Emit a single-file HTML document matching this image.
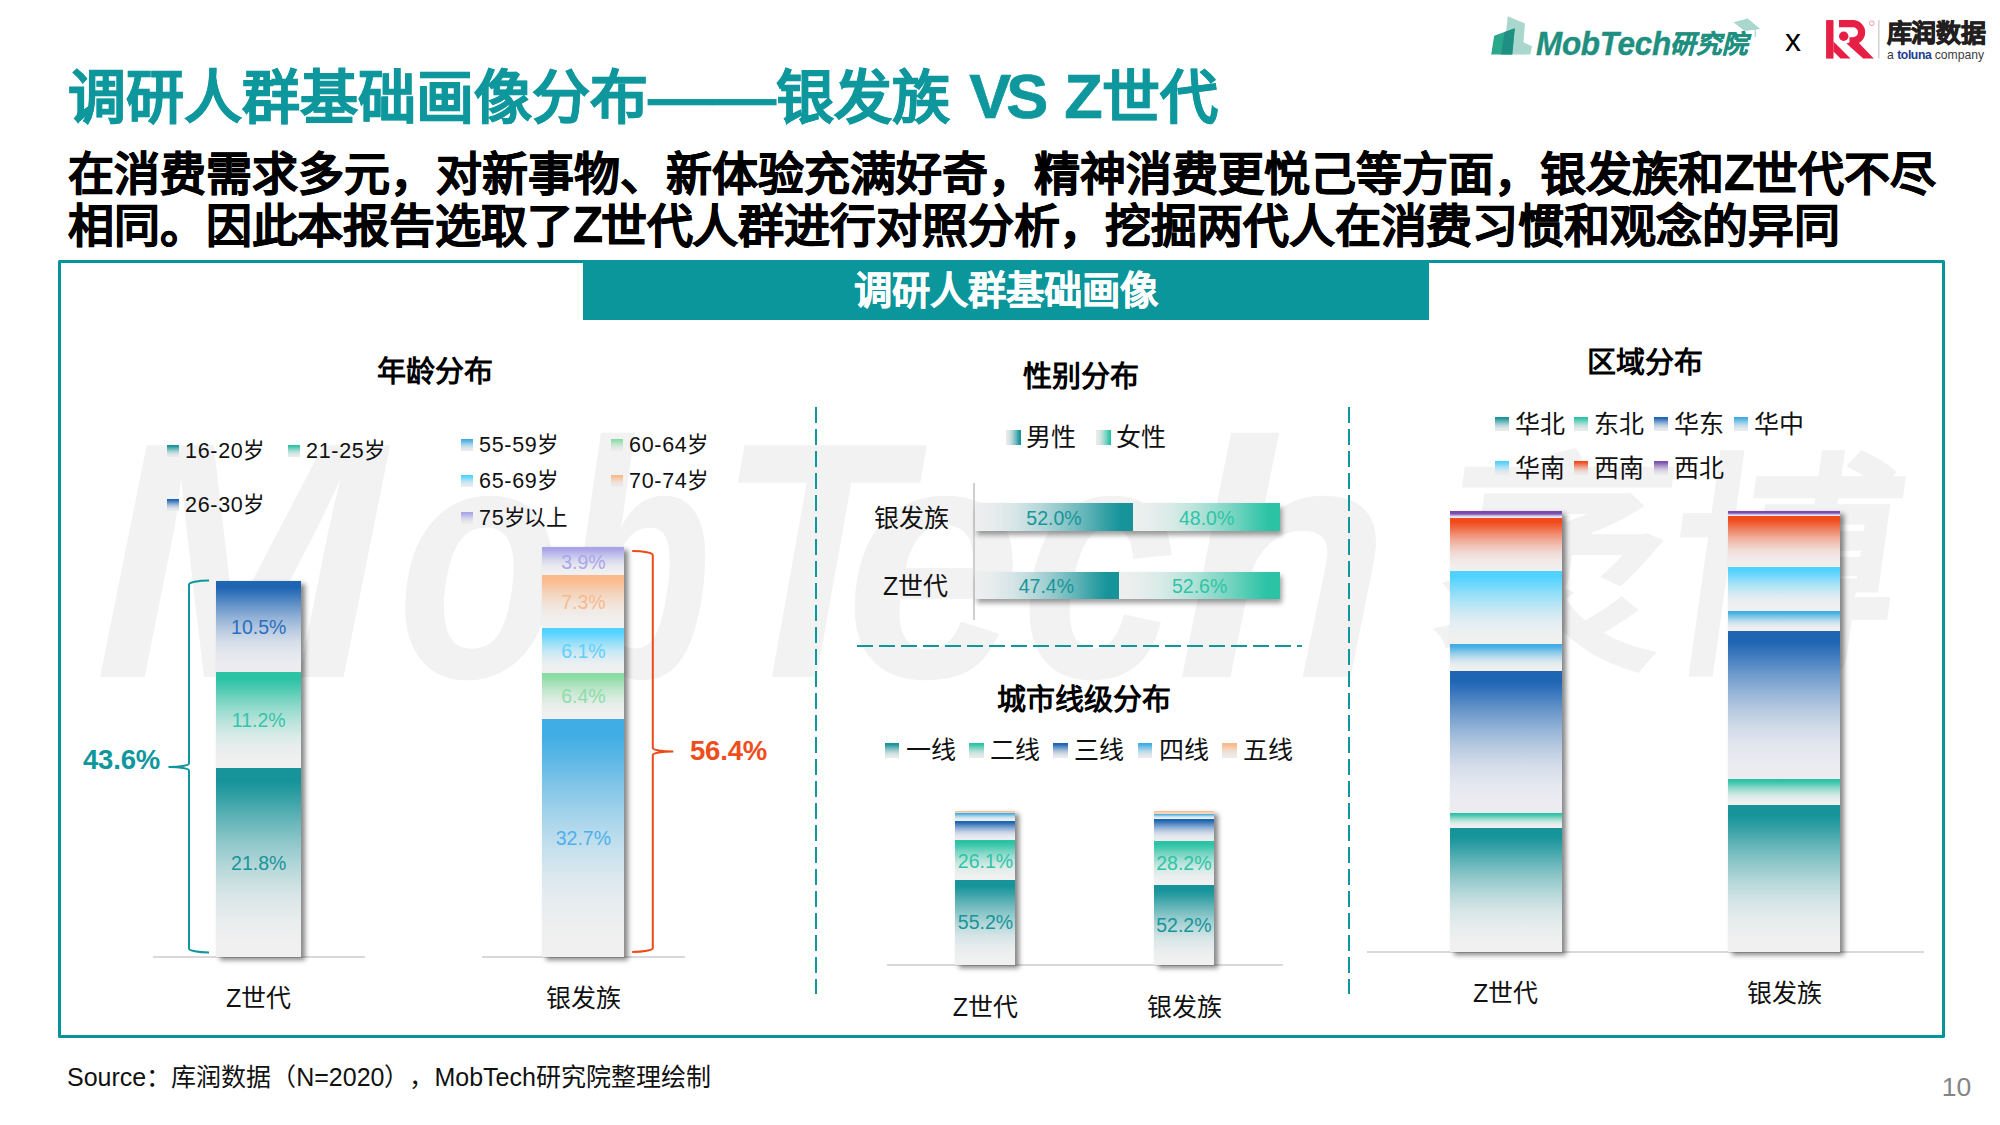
<!DOCTYPE html>
<html lang="zh-CN">
<head>
<meta charset="utf-8">
<title>调研人群基础画像分布——银发族 VS Z世代</title>
<style>
html,body{margin:0;padding:0;background:#fff;}
body{width:2000px;height:1125px;overflow:hidden;font-family:"Liberation Sans",sans-serif;color:#000;}
#slide{position:relative;width:2000px;height:1125px;background:#fff;overflow:hidden;}
.abs{position:absolute;}
.t{position:absolute;white-space:nowrap;line-height:1;}
.c{transform:translate(-50%,-50%);}
.cy{transform:translateY(-50%);}
.b{font-weight:bold;}
/* title */
#title{left:68px;top:62.5px;font-size:58px;line-height:70px;font-weight:bold;color:#0e979c;-webkit-text-stroke:.7px #0e979c;}
#sub{left:68px;top:148px;font-size:46px;line-height:52px;font-weight:bold;color:#000;white-space:nowrap;-webkit-text-stroke:.6px #000;}
#box{left:58px;top:260px;width:1881px;height:772px;border:3px solid #05949a;border-radius:1.5px;}
#banner{left:583px;top:260px;width:846px;height:60px;background:#0a969b;color:#fff;font-weight:bold;font-size:38.3px;line-height:62px;text-align:center;-webkit-text-stroke:.4px #fff;}
.z{font-size:50px;line-height:1px;letter-spacing:-2.6px;}
.wm{color:#f2f2f2;font-weight:bold;font-style:italic;}
.wl{top:391.7px;font-size:337px;line-height:337px;transform-origin:0 0;}
.ct{font-size:29px;font-weight:bold;color:#000;}
.lg{font-size:21.5px;color:#111;letter-spacing:.7px;}
.lg25{font-size:25px;color:#111;}
.cat{font-size:25px;color:#111;}
.dl{font-size:19.5px;}
.big{font-size:27.5px;letter-spacing:-.2px;}
.mk{position:absolute;width:12px;height:12px;}
.lg,.lg25{margin-left:-1px;}
.seg{position:absolute;left:0;width:100%;}
.bar{position:absolute;box-shadow:4px 3px 5px rgba(0,0,0,.48);}
.hbar{position:absolute;box-shadow:2px 4px 5px rgba(0,0,0,.38);}
.axis{position:absolute;background:#d9d9d9;}
.vd{position:absolute;width:2px;background:repeating-linear-gradient(to bottom,#0e979c 0,#0e979c 16px,transparent 16px,transparent 22px);}
.hd{position:absolute;height:2px;background:repeating-linear-gradient(to right,#0e979c 0,#0e979c 16px,transparent 16px,transparent 22px);}
</style>
</head>
<body>
<div id="slide">

<!-- LOGOS -->
<svg class="abs" style="left:1485px;top:10px;" width="60" height="50" viewBox="1485 10 60 50">
<polygon points="1507.7,16.2 1525,23.4 1522.4,54.5 1504,54.5" fill="#a9d6cd"/>
<polygon points="1522.4,41.7 1532,46.2 1530.2,54.5 1521,54.5" fill="#a9d6cd"/>
<polygon points="1494.2,35.7 1514.8,28.2 1512.2,54.5 1491.2,54.5" fill="#2aa88b"/>
<polygon points="1504.7,32 1514.8,28.2 1512.2,54.5 1501,54.5" fill="#1f8f84"/>
</svg>
<div class="t" style="left:1536px;top:25.7px;font-size:32.5px;line-height:36px;font-weight:bold;font-style:italic;color:#1f8f80;transform-origin:0 0;transform:scaleX(.968);letter-spacing:-.3px;-webkit-text-stroke:.4px #1f8f80;">MobTech</div>
<div class="t" style="left:1670px;top:26px;font-size:25.5px;line-height:36px;font-weight:bold;font-style:italic;color:#1f8f80;-webkit-text-stroke:.5px #1f8f80;">研究院</div>
<svg class="abs" style="left:1728px;top:14px;" width="40" height="28" viewBox="1728 14 40 28">
<polygon points="1733.5,22.2 1747.7,18.5 1760.2,29 1744.5,31" fill="#a9d6cd"/>
<rect x="1754.6" y="29" width="1.2" height="8" fill="#a9d6cd"/>
</svg>
<div class="t c" style="left:1793px;top:40px;font-size:32px;color:#000;">x</div>
<svg class="abs" style="left:1820px;top:14px;" width="64" height="50" viewBox="1820 14 64 50">
<rect x="1826.1" y="20.1" width="7.4" height="38.5" fill="#e71f45"/>
<polygon points="1833.5,41.5 1850.5,58.6 1840.5,58.6 1833.5,51.6" fill="#e71f45"/>
<path d="M1839 23.7 L1853 23.7 A8.6 8.6 0 0 1 1853 40.9 L1849.5 40.9" fill="none" stroke="#e71f45" stroke-width="7.2"/>
<polygon points="1846.5,43.5 1856,40 1873.8,58.6 1863.2,58.6" fill="#e71f45"/>
<circle cx="1843.7" cy="36.2" r="4.7" fill="#e71f45"/>
<circle cx="1871.8" cy="23.3" r="2.3" fill="none" stroke="#ee7f8f" stroke-width=".8"/>
<rect x="1878" y="20" width="1.5" height="38.6" fill="#d2d2d2"/>
</svg>
<div class="t" style="left:1886.5px;top:15px;font-size:25px;line-height:36px;font-weight:900;color:#231f20;letter-spacing:-.2px;-webkit-text-stroke:.8px #231f20;">库润数据</div>
<div class="t" style="left:1887px;top:48px;font-size:12.2px;line-height:14px;color:#3c3c3c;">a <span style="color:#1b3e8f;font-weight:bold;letter-spacing:-.4px;">toluna</span> company</div>

<!-- WATERMARK -->
<div id="wm1">
<div class="t wm wl" style="left:93.9px;transform:scaleX(1.033);">M</div>
<div class="t wm wl" style="left:396.7px;transform:scaleX(0.796);">o</div>
<div class="t wm wl" style="left:560.8px;transform:scaleX(0.735);">b</div>
<div class="t wm wl" style="left:716.1px;transform:scaleX(0.919);">T</div>
<div class="t wm wl" style="left:845.2px;transform:scaleX(0.942);">e</div>
<div class="t wm wl" style="left:1021.4px;transform:scaleX(0.825);">c</div>
<div class="t wm wl" style="left:1176.0px;transform:scaleX(1.043);">h</div>
</div>
<div id="wm2" class="t" style="left:1421px;top:432px;font-size:238px;line-height:280px;font-weight:900;color:#f2f2f2;transform-origin:0 100%;transform:skewX(-8deg) scaleX(.962);">袤博</div>

<!-- TITLE -->
<div id="title" class="t">调研人群基础画像分布<span style="display:inline-block;transform:scaleX(1.105);transform-origin:0 50%;margin-right:12px;">——</span>银发族 <span style="font-size:63px;line-height:1px;letter-spacing:-5px;margin-left:3px;">VS</span> <span style="font-size:63px;line-height:1px;margin-left:5px;letter-spacing:-1px;">Z</span>世代</div>
<div id="sub" class="abs">在消费需求多元，对新事物、新体验充满好奇，精神消费更悦己等方面，银发族和<span class="z">Z</span>世代不尽<br><span style="letter-spacing:-.12px;">相同。因此本报告选取了<span class="z">Z</span>世代人群进行对照分析，挖掘两代人在消费习惯和观念的异同</span></div>

<!-- BOX -->
<div id="box" class="abs"></div>
<div id="banner" class="abs">调研人群基础画像</div>

<!-- CHARTS-BEGIN -->
<!-- SECTION TITLES -->
<div class="t c ct" style="left:435px;top:372px;">年龄分布</div>
<div class="t c ct" style="left:1081px;top:377px;">性别分布</div>
<div class="t c ct" style="left:1084px;top:700px;">城市线级分布</div>
<div class="t c ct" style="left:1645px;top:363px;">区域分布</div>
<!-- DIVIDERS -->
<div class="vd" style="left:815px;top:407px;height:587px;"></div>
<div class="vd" style="left:1348px;top:407px;height:587px;"></div>
<div class="hd" style="left:857px;top:645px;width:445px;"></div>
<!-- AGE CHART -->
<div class="mk" style="left:167px;top:444.5px;width:12px;height:12px;background:linear-gradient(to bottom,#16949a 8%,#329fa5 16%,#61b3b7 30%,#8ec5c8 44%,#b4d5d7 58%,#d2e1e2 73%,#e3e8e9 87%,#ececec 101%);"></div><div class="t cy lg" style="left:186px;top:452.0px;">16-20岁</div>
<div class="mk" style="left:288px;top:444.5px;width:12px;height:12px;background:linear-gradient(to bottom,#2cc3a5 8%,#45c8ae 16%,#6fd1be 30%,#98dacd 44%,#bae1da 58%,#d5e7e3 73%,#e4eae9 87%,#ececec 101%);"></div><div class="t cy lg" style="left:307px;top:452.0px;">21-25岁</div>
<div class="mk" style="left:167px;top:499.0px;width:12px;height:12px;background:linear-gradient(to bottom,#1e65b4 8%,#3977bb 16%,#6694c8 30%,#91b1d3 44%,#b6c9dd 58%,#d3dce5 73%,#e4e7ea 87%,#ececec 101%);"></div><div class="t cy lg" style="left:186px;top:506px;">26-30岁</div>
<div class="mk" style="left:461px;top:438.5px;width:12px;height:12px;background:linear-gradient(to bottom,#40ade4 8%,#56b5e5 16%,#7cc3e7 30%,#a0d0e8 44%,#bfdcea 58%,#d7e4eb 73%,#e5e9ec 87%,#ececec 101%);"></div><div class="t cy lg" style="left:480px;top:446.0px;">55-59岁</div>
<div class="mk" style="left:611px;top:438.5px;width:12px;height:12px;background:linear-gradient(to bottom,#8bdba6 8%,#98ddaf 16%,#ade1be 30%,#c1e5cd 44%,#d3e8da 58%,#e0eae4 73%,#e8ebe9 87%,#ececec 101%);"></div><div class="t cy lg" style="left:630px;top:446.0px;">60-64岁</div>
<div class="mk" style="left:461px;top:475.0px;width:12px;height:12px;background:linear-gradient(to bottom,#4fd2ff 8%,#63d5fd 16%,#86dbf8 30%,#a7e1f4 44%,#c3e5f1 58%,#d9e9ee 73%,#e6ebed 87%,#ececec 101%);"></div><div class="t cy lg" style="left:480px;top:481.5px;">65-69岁</div>
<div class="mk" style="left:611px;top:475.0px;width:12px;height:12px;background:linear-gradient(to bottom,#f9b98a 8%,#f7c097 16%,#f4cbac 30%,#f2d6c1 44%,#efdfd3 58%,#eee6e0 73%,#edeae8 87%,#ececec 101%);"></div><div class="t cy lg" style="left:630px;top:481.5px;">70-74岁</div>
<div class="mk" style="left:461px;top:512.0px;width:12px;height:12px;background:linear-gradient(to bottom,#a8a4e8 8%,#b1ade9 16%,#c0bde9 30%,#ceccea 44%,#dad9eb 58%,#e4e3ec 73%,#e9e9ec 87%,#ececec 101%);"></div><div class="t cy lg" style="left:480px;top:519px;">75岁<span style="margin-left:-3px;letter-spacing:-.5px;">以上</span></div>
<div class="axis" style="left:153px;top:956px;width:212px;height:2px;"></div>
<div class="axis" style="left:482px;top:956px;width:203px;height:2px;"></div>
<div class="bar" style="left:216px;top:580.5px;width:85px;height:376.5px;">
<div class="seg" style="top:0.00px;height:91.10px;background:linear-gradient(to bottom,#1e65b4 7%,#3977bc 15%,#6694c9 27%,#91b1d6 40%,#b6c9e0 53%,#d3dce9 66%,#e4e7ee 79%,#ececf0 92%);"></div>
<div class="seg" style="top:91.10px;height:96.70px;background:linear-gradient(to bottom,#2cc3a5 7%,#45c9af 15%,#71d3bf 27%,#9adccf 40%,#bde4dc 53%,#d8ebe7 66%,#e8eeed 79%,#f0f0f0 92%);"></div>
<div class="seg" style="top:187.80px;height:188.70px;background:linear-gradient(to bottom,#16949a 7%,#32a0a5 15%,#62b4b8 27%,#90c8ca 40%,#b7d8da 53%,#d6e5e6 66%,#e7eced 79%,#f0f0f0 92%);"></div>
</div>
<div class="bar" style="left:542.3px;top:546.6px;width:82.0px;height:410.4px;">
<div class="seg" style="top:0.00px;height:28.40px;background:linear-gradient(to bottom,#a8a4e8 7%,#b1aee9 15%,#c1bfeb 27%,#d0cfec 40%,#dddcee 53%,#e7e7ef 66%,#ededf0 79%,#f0f0f0 92%);"></div>
<div class="seg" style="top:28.40px;height:53.00px;background:linear-gradient(to bottom,#f9b98a 7%,#f8c097 15%,#f6ccae 27%,#f4d8c3 40%,#f2e2d5 53%,#f1e9e4 66%,#f0eeec 79%,#f0f0f0 92%);"></div>
<div class="seg" style="top:81.40px;height:44.70px;background:linear-gradient(to bottom,#4fd2ff 7%,#64d6fd 15%,#87dcfa 27%,#a9e3f7 40%,#c6e8f4 53%,#ddecf2 66%,#eaeff1 79%,#f0f0f0 92%);"></div>
<div class="seg" style="top:126.10px;height:46.70px;background:linear-gradient(to bottom,#8bdba6 7%,#98deb0 15%,#aee2c0 27%,#c4e7cf 40%,#d6ebdd 53%,#e4ede7 66%,#ecefed 79%,#f0f0f0 92%);"></div>
<div class="seg" style="top:172.80px;height:237.60px;background:linear-gradient(to bottom,#40ade4 7%,#57b6e6 15%,#7ec4e8 27%,#a3d3eb 40%,#c2dfed 53%,#dbe8ef 66%,#e9edf0 79%,#f0f0f0 92%);"></div>
</div>
<div class="t c dl" style="left:258.7px;top:627.5px;color:#2a6fc0;">10.5%</div>
<div class="t c dl" style="left:258.7px;top:721px;color:#35c5a9;">11.2%</div>
<div class="t c dl" style="left:258.7px;top:863.5px;color:#17959a;">21.8%</div>
<div class="t c dl" style="left:583.4px;top:563px;color:#a9a6ea;">3.9%</div>
<div class="t c dl" style="left:583.4px;top:603px;color:#f7ba8f;">7.3%</div>
<div class="t c dl" style="left:583.4px;top:652px;color:#5fd0fb;">6.1%</div>
<div class="t c dl" style="left:583.4px;top:696.6px;color:#8fdcaa;">6.4%</div>
<div class="t c dl" style="left:583.4px;top:839px;color:#4fb0ea;">32.7%</div>
<div class="t c cat" style="left:258.7px;top:998px;">Z世代</div>
<div class="t c cat" style="left:583.4px;top:998px;">银发族</div>
<div class="t cy b big" style="left:83px;top:760px;color:#0e979c;">43.6%</div>
<div class="t cy b big" style="left:690px;top:751px;color:#ef4e1c;">56.4%</div>
<svg class="abs" style="left:160px;top:570px;" width="60" height="395" viewBox="160 570 60 395" fill="none">
<path d="M209 580.5 A20 4 0 0 0 189 584.5 L189 763.5 A20 3.5 0 0 1 168.5 767 A20 3.5 0 0 1 189 770.5 L189 948.5 A20 4 0 0 0 209 952.5" stroke="#0e979c" stroke-width="2"/></svg>
<svg class="abs" style="left:625px;top:540px;" width="60" height="425" viewBox="625 540 60 425" fill="none">
<path d="M632.2 551 A20.5 4 0 0 1 652.8 555 L652.8 748 A20.5 3.5 0 0 0 673.3 751.5 A20.5 3.5 0 0 0 652.8 755 L652.8 948 A20.5 4 0 0 1 632.2 952" stroke="#ee4a18" stroke-width="2"/></svg>
<!-- GENDER CHART -->
<div class="mk" style="left:1005.5px;top:430.0px;width:15px;height:15px;background:linear-gradient(to left,#16949a 8%,#329fa5 17%,#61b3b7 30%,#8ec5c8 45%,#b4d5d7 59%,#d2e1e2 74%,#e3e8e9 88%,#ececec 103%);"></div><div class="t cy lg25" style="left:1027.0px;top:436.5px;">男性</div>
<div class="mk" style="left:1095.6px;top:430.0px;width:15px;height:15px;background:linear-gradient(to left,#2cc3a5 8%,#45c8ae 17%,#6fd1be 30%,#98dacd 45%,#bae1da 59%,#d5e7e3 74%,#e4eae9 88%,#ececec 103%);"></div><div class="t cy lg25" style="left:1117.1px;top:436.5px;">女性</div>
<div class="axis" style="left:973px;top:483px;width:2px;height:137px;background:#cfcfcf;"></div>
<div class="hbar" style="left:975px;top:503px;width:305px;height:28px;"><div class="abs" style="left:0;top:0;height:100%;width:158px;background:linear-gradient(to left,#16949a 8%,#32a0a5 17%,#62b4b8 30%,#90c8ca 45%,#b7d8da 59%,#d6e5e6 74%,#e7eced 88%,#f0f0f0 103%);"></div><div class="abs" style="left:158px;top:0;height:100%;width:147px;background:linear-gradient(to left,#2cc3a5 8%,#45c9af 17%,#71d3bf 30%,#9adccf 45%,#bde4dc 59%,#d8ebe7 74%,#e8eeed 88%,#f0f0f0 103%);"></div></div>
<div class="hbar" style="left:975px;top:572px;width:305px;height:27px;"><div class="abs" style="left:0;top:0;height:100%;width:144px;background:linear-gradient(to left,#16949a 8%,#32a0a5 17%,#62b4b8 30%,#90c8ca 45%,#b7d8da 59%,#d6e5e6 74%,#e7eced 88%,#f0f0f0 103%);"></div><div class="abs" style="left:144px;top:0;height:100%;width:161px;background:linear-gradient(to left,#2cc3a5 8%,#45c9af 17%,#71d3bf 30%,#9adccf 45%,#bde4dc 59%,#d8ebe7 74%,#e8eeed 88%,#f0f0f0 103%);"></div></div>
<div class="t c dl" style="left:1054px;top:519px;color:#17959a;">52.0%</div>
<div class="t c dl" style="left:1206.6px;top:519px;color:#2ec4a6;">48.0%</div>
<div class="t c dl" style="left:1046.4px;top:587px;color:#17959a;">47.4%</div>
<div class="t c dl" style="left:1199.6px;top:587px;color:#2ec4a6;">52.6%</div>
<div class="t cy cat" style="left:874px;top:517.5px;">银发族</div>
<div class="t cy cat" style="left:883px;top:586px;">Z世代</div>
<!-- CITY TIER CHART -->
<div class="mk" style="left:884.6px;top:743.2px;width:14.5px;height:14.5px;background:linear-gradient(to bottom,#16949a 8%,#329fa5 16%,#61b3b7 30%,#8ec5c8 44%,#b4d5d7 58%,#d2e1e2 73%,#e3e8e9 87%,#ececec 101%);"></div><div class="t cy lg25" style="left:906.6px;top:749.8px;">一线</div>
<div class="mk" style="left:969.0px;top:743.2px;width:14.5px;height:14.5px;background:linear-gradient(to bottom,#2cc3a5 8%,#45c8ae 16%,#6fd1be 30%,#98dacd 44%,#bae1da 58%,#d5e7e3 73%,#e4eae9 87%,#ececec 101%);"></div><div class="t cy lg25" style="left:991.0px;top:749.8px;">二线</div>
<div class="mk" style="left:1053.4px;top:743.2px;width:14.5px;height:14.5px;background:linear-gradient(to bottom,#1e65b4 8%,#3977bb 16%,#6694c8 30%,#91b1d3 44%,#b6c9dd 58%,#d3dce5 73%,#e4e7ea 87%,#ececec 101%);"></div><div class="t cy lg25" style="left:1075.4px;top:749.8px;">三线</div>
<div class="mk" style="left:1137.8px;top:743.2px;width:14.5px;height:14.5px;background:linear-gradient(to bottom,#40ade4 8%,#56b5e5 16%,#7cc3e7 30%,#a0d0e8 44%,#bfdcea 58%,#d7e4eb 73%,#e5e9ec 87%,#ececec 101%);"></div><div class="t cy lg25" style="left:1159.8px;top:749.8px;">四线</div>
<div class="mk" style="left:1222.2px;top:743.2px;width:14.5px;height:14.5px;background:linear-gradient(to bottom,#f9b98a 8%,#f7c097 16%,#f4cbac 30%,#f2d6c1 44%,#efdfd3 58%,#eee6e0 73%,#edeae8 87%,#ececec 101%);"></div><div class="t cy lg25" style="left:1244.2px;top:749.8px;">五线</div>
<div class="axis" style="left:887px;top:964px;width:396px;height:2px;"></div>
<div class="bar" style="left:955.3px;top:810.8px;width:60.200000000000045px;height:154.20000000000005px;">
<div class="seg" style="top:0.00px;height:1.80px;background:linear-gradient(to bottom,#f9b98a 7%,#f9bc90 15%,#fac299 27%,#fac8a3 40%,#faccab 53%,#fbd0b1 66%,#fbd2b4 79%,#fbd3b6 92%);"></div>
<div class="seg" style="top:1.80px;height:8.10px;background:linear-gradient(to bottom,#40ade4 7%,#57b6e6 15%,#7ec4e8 27%,#a3d3eb 40%,#c2dfed 53%,#dbe8ef 66%,#e9edf0 79%,#f0f0f0 92%);"></div>
<div class="seg" style="top:9.90px;height:19.30px;background:linear-gradient(to bottom,#1e65b4 7%,#3977bc 15%,#6694c9 27%,#91b1d6 40%,#b6c9e0 53%,#d3dce9 66%,#e4e7ee 79%,#ececf0 92%);"></div>
<div class="seg" style="top:29.20px;height:40.00px;background:linear-gradient(to bottom,#2cc3a5 7%,#45c9af 15%,#71d3bf 27%,#9adccf 40%,#bde4dc 53%,#d8ebe7 66%,#e8eeed 79%,#f0f0f0 92%);"></div>
<div class="seg" style="top:69.20px;height:85.00px;background:linear-gradient(to bottom,#16949a 7%,#32a0a5 15%,#62b4b8 27%,#90c8ca 40%,#b7d8da 53%,#d6e5e6 66%,#e7eced 79%,#f0f0f0 92%);"></div>
</div>
<div class="bar" style="left:1153.7px;top:810.8px;width:60.299999999999955px;height:154.20000000000005px;">
<div class="seg" style="top:0.00px;height:3.00px;background:linear-gradient(to bottom,#f9b98a 7%,#f9bd92 15%,#f8c49e 27%,#f7cbaa 40%,#f7d1b5 53%,#f6d5bd 66%,#f6d8c2 79%,#f6d9c4 92%);"></div>
<div class="seg" style="top:3.00px;height:5.10px;background:linear-gradient(to bottom,#40ade4 7%,#57b6e6 15%,#7ec4e8 27%,#a3d3eb 40%,#c2dfed 53%,#dbe8ef 66%,#e9edf0 79%,#f0f0f0 92%);"></div>
<div class="seg" style="top:8.10px;height:22.30px;background:linear-gradient(to bottom,#1e65b4 7%,#3977bc 15%,#6694c9 27%,#91b1d6 40%,#b6c9e0 53%,#d3dce9 66%,#e4e7ee 79%,#ececf0 92%);"></div>
<div class="seg" style="top:30.40px;height:43.60px;background:linear-gradient(to bottom,#2cc3a5 7%,#45c9af 15%,#71d3bf 27%,#9adccf 40%,#bde4dc 53%,#d8ebe7 66%,#e8eeed 79%,#f0f0f0 92%);"></div>
<div class="seg" style="top:74.00px;height:80.20px;background:linear-gradient(to bottom,#16949a 7%,#32a0a5 15%,#62b4b8 27%,#90c8ca 40%,#b7d8da 53%,#d6e5e6 66%,#e7eced 79%,#f0f0f0 92%);"></div>
</div>
<div class="t c dl" style="left:985.5px;top:861.5px;color:#2ec4a6;">26.1%</div>
<div class="t c dl" style="left:985.5px;top:923px;color:#17959a;">55.2%</div>
<div class="t c dl" style="left:1183.9px;top:864.4px;color:#2ec4a6;">28.2%</div>
<div class="t c dl" style="left:1183.9px;top:926px;color:#17959a;">52.2%</div>
<div class="t c cat" style="left:985.5px;top:1007px;">Z世代</div>
<div class="t c cat" style="left:1184px;top:1007px;">银发族</div>
<!-- REGION CHART -->
<div class="mk" style="left:1494.7px;top:417.0px;width:14px;height:14px;background:linear-gradient(to bottom,#16949a 8%,#329fa5 16%,#61b3b7 30%,#8ec5c8 44%,#b4d5d7 58%,#d2e1e2 73%,#e3e8e9 87%,#ececec 101%);"></div><div class="t cy lg25" style="left:1515.7px;top:424px;">华北</div>
<div class="mk" style="left:1574.4px;top:417.0px;width:14px;height:14px;background:linear-gradient(to bottom,#2cc3a5 8%,#45c8ae 16%,#6fd1be 30%,#98dacd 44%,#bae1da 58%,#d5e7e3 73%,#e4eae9 87%,#ececec 101%);"></div><div class="t cy lg25" style="left:1595.4px;top:424px;">东北</div>
<div class="mk" style="left:1654.1px;top:417.0px;width:14px;height:14px;background:linear-gradient(to bottom,#1e65b4 8%,#3977bb 16%,#6694c8 30%,#91b1d3 44%,#b6c9dd 58%,#d3dce5 73%,#e4e7ea 87%,#ececec 101%);"></div><div class="t cy lg25" style="left:1675.1px;top:424px;">华东</div>
<div class="mk" style="left:1733.8px;top:417.0px;width:14px;height:14px;background:linear-gradient(to bottom,#40ade4 8%,#56b5e5 16%,#7cc3e7 30%,#a0d0e8 44%,#bfdcea 58%,#d7e4eb 73%,#e5e9ec 87%,#ececec 101%);"></div><div class="t cy lg25" style="left:1754.8px;top:424px;">华中</div>
<div class="mk" style="left:1494.7px;top:461.0px;width:14px;height:14px;background:linear-gradient(to bottom,#4fd2ff 8%,#63d5fd 16%,#86dbf8 30%,#a7e1f4 44%,#c3e5f1 58%,#d9e9ee 73%,#e6ebed 87%,#ececec 101%);"></div><div class="t cy lg25" style="left:1515.7px;top:468px;">华南</div>
<div class="mk" style="left:1574.4px;top:461.0px;width:14px;height:14px;background:linear-gradient(to bottom,#f04a1a 8%,#ef5f35 16%,#ef8364 30%,#eea590 44%,#edc2b5 58%,#ecd9d3 73%,#ece6e4 87%,#ececec 101%);"></div><div class="t cy lg25" style="left:1595.4px;top:468px;">西南</div>
<div class="mk" style="left:1654.1px;top:461.0px;width:14px;height:14px;background:linear-gradient(to bottom,#7b4fb0 8%,#8a63b8 16%,#a386c5 30%,#baa7d2 44%,#cfc3dc 58%,#ded9e5 73%,#e7e6ea 87%,#ececec 101%);"></div><div class="t cy lg25" style="left:1675.1px;top:468px;">西北</div>
<div class="axis" style="left:1367px;top:951px;width:557px;height:2px;"></div>
<div class="bar" style="left:1450px;top:511.25px;width:111.5px;height:440.25px;">
<div class="seg" style="top:0.00px;height:6.75px;background:linear-gradient(to bottom,#7849ad 0%,#7c4fb0 40%,#b9a3d6 62%,#e9e8f4 82%);"></div>
<div class="seg" style="top:6.75px;height:52.50px;background:linear-gradient(to bottom,#f04a1a 7%,#f05f36 15%,#f08364 27%,#f1a691 40%,#f1c3b7 53%,#f1dad5 66%,#f1e7e6 79%,#f1eeee 92%);"></div>
<div class="seg" style="top:59.25px;height:73.75px;background:linear-gradient(to bottom,#4fd2ff 7%,#64d6fd 15%,#87dcfa 27%,#a9e3f7 40%,#c6e8f4 53%,#ddecf2 66%,#eaeff1 79%,#f0f0f0 92%);"></div>
<div class="seg" style="top:133.00px;height:26.50px;background:linear-gradient(to bottom,#40ade4 7%,#57b6e6 15%,#7ec4e8 27%,#a3d3eb 40%,#c2dfed 53%,#dbe8ef 66%,#e9edf0 79%,#f0f0f0 92%);"></div>
<div class="seg" style="top:159.50px;height:141.75px;background:linear-gradient(to bottom,#1e65b4 7%,#3977bc 15%,#6694c9 27%,#91b1d6 40%,#b6c9e0 53%,#d3dce9 66%,#e4e7ee 79%,#ececf0 92%);"></div>
<div class="seg" style="top:301.25px;height:15.00px;background:linear-gradient(to bottom,#2cc3a5 7%,#45c9af 15%,#71d3bf 27%,#9adccf 40%,#bde4dc 53%,#d8ebe7 66%,#e8eeed 79%,#f0f0f0 92%);"></div>
<div class="seg" style="top:316.25px;height:124.00px;background:linear-gradient(to bottom,#16949a 7%,#32a0a5 15%,#62b4b8 27%,#90c8ca 40%,#b7d8da 53%,#d6e5e6 66%,#e7eced 79%,#f0f0f0 92%);"></div>
</div>
<div class="bar" style="left:1728.25px;top:511.25px;width:111.75px;height:440.25px;">
<div class="seg" style="top:0.00px;height:4.50px;background:linear-gradient(to bottom,#7849ad 0%,#7c4fb0 40%,#b9a3d6 62%,#e9e8f4 82%);"></div>
<div class="seg" style="top:4.50px;height:51.00px;background:linear-gradient(to bottom,#f04a1a 7%,#f05f36 15%,#f08364 27%,#f1a691 40%,#f1c3b7 53%,#f1dad5 66%,#f1e7e6 79%,#f1eeee 92%);"></div>
<div class="seg" style="top:55.50px;height:44.50px;background:linear-gradient(to bottom,#4fd2ff 7%,#64d6fd 15%,#87dcfa 27%,#a9e3f7 40%,#c6e8f4 53%,#ddecf2 66%,#eaeff1 79%,#f0f0f0 92%);"></div>
<div class="seg" style="top:100.00px;height:20.00px;background:linear-gradient(to bottom,#40ade4 7%,#57b6e6 15%,#7ec4e8 27%,#a3d3eb 40%,#c2dfed 53%,#dbe8ef 66%,#e9edf0 79%,#f0f0f0 92%);"></div>
<div class="seg" style="top:120.00px;height:147.50px;background:linear-gradient(to bottom,#1e65b4 7%,#3977bc 15%,#6694c9 27%,#91b1d6 40%,#b6c9e0 53%,#d3dce9 66%,#e4e7ee 79%,#ececf0 92%);"></div>
<div class="seg" style="top:267.50px;height:26.25px;background:linear-gradient(to bottom,#2cc3a5 7%,#45c9af 15%,#71d3bf 27%,#9adccf 40%,#bde4dc 53%,#d8ebe7 66%,#e8eeed 79%,#f0f0f0 92%);"></div>
<div class="seg" style="top:293.75px;height:146.50px;background:linear-gradient(to bottom,#16949a 7%,#32a0a5 15%,#62b4b8 27%,#90c8ca 40%,#b7d8da 53%,#d6e5e6 66%,#e7eced 79%,#f0f0f0 92%);"></div>
</div>
<div class="t c cat" style="left:1505.6px;top:993px;">Z世代</div>
<div class="t c cat" style="left:1784.5px;top:993px;">银发族</div>
<!-- CHARTS-END -->

<!-- SOURCE -->
<div class="t" style="left:67px;top:1063.3px;font-size:25px;line-height:28px;color:#111;text-spacing-trim:space-all;">Source：库润数据（N=2020），MobTech研究院整理绘制</div>
<div class="t" style="left:1941.8px;top:1072.8px;font-size:26.5px;line-height:28px;color:#858585;">10</div>

</div>
</body>
</html>
